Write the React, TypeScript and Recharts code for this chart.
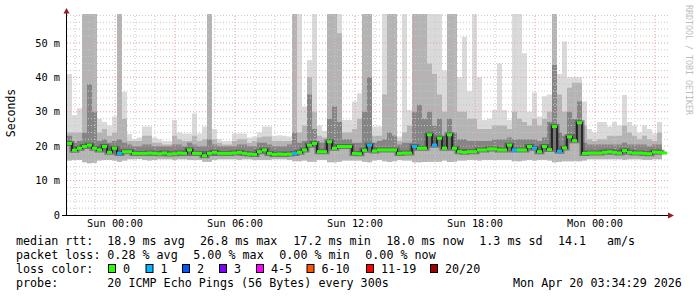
import React from 'react';
import { ComposedChart, Area, Line, Scatter, XAxis, YAxis, ReferenceLine } from 'recharts';

// hours relative to Sun 00:00, one sample every 15 min
const START_HOUR = -2.4;
const END_HOUR = 27.65;
const STEP_HOURS = 0.25;

// median rtt, ms
const median = [
  20.8, 18.8, 19.4, 19.9, 20.3, 19.4, 18.9, 19.9, 18.2, 19.4,
  17.9, 18.4, 18.4, 17.9, 17.9, 17.9, 18.0, 17.9, 17.8, 18.0,
  17.7, 17.8, 18.0, 17.9, 18.9, 17.9, 17.9, 17.2, 17.9, 18.2,
  17.9, 17.9, 17.9, 18.0, 18.2, 17.9, 17.7, 17.6, 18.4, 18.9,
  17.9, 17.6, 17.7, 17.6, 17.7, 17.9, 18.2, 18.9, 20.3, 20.8,
  18.4, 18.4, 21.3, 19.4, 19.9, 19.9, 19.9, 17.9, 17.8, 18.8,
  20.3, 18.6, 18.9, 18.9, 18.9, 18.9, 17.9, 18.0, 18.0, 19.9,
  19.4, 19.4, 23.3, 20.3, 22.3, 19.4, 23.3, 19.4, 18.4, 18.2,
  18.4, 18.4, 18.9, 18.9, 19.2, 19.2, 18.9, 18.9, 20.3, 18.9,
  18.9, 18.9, 19.9, 19.4, 18.4, 19.9, 19.0, 25.7, 18.5, 19.5,
  22.7, 21.6, 26.8, 17.9, 18.0, 18.0, 18.0, 18.2, 18.4, 18.2,
  18.0, 18.7, 18.2, 18.0, 18.0, 17.9, 17.8, 18.3, 18.2, 18.0,
];

// lost pings out of 20
const loss = [
  0, 0, 0, 0, 0, 0, 0, 0, 0, 0,
  1, 0, 0, 0, 0, 0, 0, 0, 0, 0,
  0, 0, 0, 0, 0, 0, 0, 0, 0, 0,
  0, 0, 0, 0, 0, 0, 0, 0, 0, 0,
  0, 0, 0, 0, 0, 1, 0, 0, 0, 0,
  0, 0, 0, 0, 0, 0, 0, 0, 0, 0,
  1, 0, 0, 0, 0, 0, 0, 0, 0, 1,
  0, 0, 0, 1, 0, 0, 0, 0, 0, 0,
  0, 0, 0, 0, 0, 0, 0, 0, 0, 1,
  0, 0, 0, 1, 0, 0, 0, 0, 1, 0,
  0, 0, 0, 0, 0, 0, 0, 0, 0, 0,
  0, 0, 0, 0, 0, 0, 0, 0, 0, 0,
];

// smoke: fastest ping
const smokeLow = [
  15.8, 16.0, 16.0, 15.3, 15.0, 15.2, 15.8, 16.0, 16.0, 15.8,
  15.5, 15.8, 16.2, 16.2, 16.3, 16.0, 15.8, 16.0, 16.2, 16.2,
  16.2, 16.0, 16.2, 16.2, 16.0, 16.0, 16.0, 15.5, 15.5, 16.0,
  16.2, 16.2, 16.2, 16.2, 16.0, 16.2, 16.2, 16.0, 16.0, 16.0,
  16.0, 16.2, 16.2, 16.2, 16.0, 15.6, 15.6, 15.8, 15.5, 15.5,
  16.0, 16.0, 15.3, 15.3, 15.5, 15.8, 15.8, 15.8, 15.8, 15.5,
  15.3, 15.8, 16.0, 15.6, 15.4, 15.6, 16.0, 15.8, 15.8, 15.3,
  15.3, 15.4, 15.5, 15.5, 15.5, 15.8, 15.4, 15.5, 15.8, 15.8,
  16.0, 16.0, 15.8, 16.0, 16.0, 16.0, 16.0, 16.0, 16.0, 15.6,
  15.6, 15.8, 16.0, 15.8, 16.0, 16.0, 15.8, 15.3, 15.5, 15.6,
  15.6, 15.6, 15.6, 15.8, 16.2, 16.2, 16.2, 16.2, 16.2, 16.2,
  16.2, 16.0, 16.2, 16.2, 16.2, 16.0, 16.0, 16.2, 16.2, 16.2,
];

// smoke: middle pings (medium grey)
const smokeMid = [
  24, 24, 24, 58.4, 58.4, 58.4, 24, 25, 23, 24,
  58.4, 28, 21.5, 21.5, 21.5, 23, 23, 21, 21, 20.5,
  20.5, 23, 22, 21.5, 21.5, 23, 21.5, 22, 58.4, 22,
  21, 20.5, 20.5, 21.5, 22, 22, 21, 21.5, 22.5, 22.8,
  22.8, 21.5, 21.5, 21.5, 21.5, 58.4, 24, 26, 40, 30,
  23, 22.5, 58.4, 58.4, 52.8, 24, 24, 25, 28, 58.4,
  58.4, 23, 23, 35, 58.4, 58.4, 21.5, 24, 26, 58.4,
  58.4, 58.4, 44, 41, 35, 30, 58.4, 58.4, 30, 30,
  28, 28, 25, 25, 25, 26, 26, 26, 25, 30,
  28, 27, 26, 28, 26, 28, 30, 58.4, 35, 30,
  37, 38.4, 38.4, 26, 22, 21.5, 22, 22, 23, 23,
  23, 26, 24, 23, 22, 23, 22, 21.5, 24, 22,
];

// smoke: slowest ping (light grey)
const smokeHigh = [
  41, 29, 31, 58.4, 58.4, 58.4, 28, 27, 26, 28.6,
  58.4, 35.8, 23.5, 22, 22.5, 25.7, 25.7, 22.5, 22, 21.5,
  21.5, 27.6, 24, 23.7, 23.7, 29.5, 23.7, 25.7, 58.4, 25,
  22, 21.5, 21.5, 23.7, 23.7, 23.7, 22.5, 22.8, 24, 25.7,
  25.7, 23, 23.2, 23, 22.8, 58.4, 58.4, 31.5, 45, 58.4,
  26, 24.5, 58.4, 58.4, 58.4, 27.6, 27.6, 33, 35.4, 58.4,
  58.4, 25.7, 25.7, 58.4, 58.4, 58.4, 22.8, 58.4, 30.5, 58.4,
  58.4, 58.4, 58.4, 58.4, 58.4, 42, 58.4, 58.4, 40, 51.8,
  36, 58.4, 40, 27.6, 28, 30.5, 44, 30.5, 27.6, 58.4,
  58.4, 47, 30, 35.6, 28.6, 34.5, 35, 58.4, 41, 50.4,
  40, 40, 40, 33, 25, 24, 27, 27, 25.7, 27,
  26, 34.9, 27, 26, 24, 26, 25, 23.7, 27, 27,
];

// smoke: pings just above the median (dark grey)
const smokeCore = [
  23, 21, 21.5, 24, 38, 30, 21.5, 22, 21, 21.5,
  22, 21, 20.5, 20, 20, 20.5, 20.5, 20, 20, 20,
  20, 20.5, 20.5, 20, 21, 20.5, 20, 20, 22, 20.5,
  20, 20, 20, 20, 20.5, 20.5, 20, 20, 21, 21,
  20.5, 20, 20, 20, 20.5, 24, 21, 21.5, 35, 25,
  21, 21, 28, 31.5, 27, 22, 22, 21, 21, 30,
  40, 21, 21.5, 22, 24, 23, 20.5, 21, 21, 30,
  32, 28, 30, 26, 28, 23, 28, 24, 22, 22,
  21.5, 21.5, 21.5, 21.5, 21.5, 22, 22, 22, 22.5, 22,
  22, 22, 22, 22, 21.5, 22.5, 27, 43.6, 24, 23,
  30, 28, 33, 21, 20.5, 20.5, 20.5, 20.5, 20.5, 20.5,
  20.5, 21, 20.5, 20.5, 20.5, 20.5, 20, 20.5, 20.5, 20.5,
];

const timeTicks = [0, 6, 12, 18, 24];
const timeLabels = ['Sun 00:00', 'Sun 06:00', 'Sun 12:00', 'Sun 18:00', 'Mon 00:00'];
const rttTicks = [0, 10, 20, 30, 40, 50];

const lossLabels = ['0', '1', '2', '3', '4-5', '6-10', '11-19', '20/20'];
const lossColors = ['#26ff00', '#00b8ff', '#0059ff', '#7e00ff', '#ff00ff', '#ff5500', '#ff0000', '#a10000'];

const MONO = '"DejaVu Sans Mono", monospace';
const SEG_PX = 5;

const lossColor = (n: number) => {
  if (n <= 3) return lossColors[n];
  if (n <= 5) return lossColors[4];
  if (n <= 10) return lossColors[5];
  if (n <= 19) return lossColors[6];
  return lossColors[7];
};

const rows = median.map((m, i) => ({
  t: START_HOUR + i * STEP_HOURS,
  median: m,
  loss: loss[i],
  light: [smokeLow[i], smokeHigh[i]],
  mid: [smokeLow[i], smokeMid[i]],
  core: [m, smokeCore[i]],
}));

// grid
const hourLines: number[] = [];
for (let h = -2; h <= 27; h++) hourLines.push(h);
const msLines: number[] = [];
for (let v = 2; v <= 58; v += 2) msLines.push(v);

const MedianTick = (props: any) => {
  const { cx, cy, payload } = props;
  if (cx == null || cy == null) return <g />;
  return <rect x={cx} y={cy - 1.5} width={SEG_PX} height={3} fill={lossColor(payload.loss)} />;
};

const legendRows: [number, number, string][] = [
  [245, 16, 'median rtt:'],
  [245, 107.3, '18.9 ms avg'],
  [245, 200, '26.8 ms max'],
  [245, 293.3, '17.2 ms min'],
  [245, 386.3, '18.0 ms now'],
  [245, 479.3, '1.3 ms sd'],
  [245, 558, '14.1'],
  [245, 607, 'am/s'],
  [259, 16, 'packet loss:'],
  [259, 107.3, '0.28 % avg'],
  [259, 193.3, '5.00 % max'],
  [259, 279.3, '0.00 % min'],
  [259, 365.3, '0.00 % now'],
  [273, 16, 'loss color:'],
  [287, 16, 'probe:'],
  [287, 107.3, '20 ICMP Echo Pings (56 Bytes) every 300s'],
  [287, 513, 'Mon Apr 20 03:34:29 2026'],
];
const swatchX = [108, 145.5, 182, 219, 256, 306.5, 366, 430];

export default function App() {
  const tickStyle = { fontFamily: MONO, fontSize: 10.3, fill: '#000' };
  return (
    <div style={{ position: 'absolute', left: 0, top: 0, width: 697, height: 297, background: '#fff' }}>
      <ComposedChart
        width={697}
        height={297}
        data={rows}
        margin={{ top: 14, right: 29, bottom: 62, left: 17 }}
      >
        <XAxis
          dataKey="t"
          type="number"
          domain={[START_HOUR, END_HOUR]}
          allowDataOverflow
          ticks={timeTicks}
          tickFormatter={(v: number) => timeLabels[timeTicks.indexOf(v)]}
          tick={tickStyle}
          tickLine={false}
          tickSize={0}
          tickMargin={5}
          axisLine={false}
          height={20}
        />
        <YAxis
          type="number"
          domain={[0, 58.4]}
          allowDataOverflow
          ticks={rttTicks}
          tickFormatter={(v: number) => (v === 0 ? '0' : `${v} m`)}
          tick={tickStyle}
          tickLine={false}
          tickSize={0}
          tickMargin={7}
          axisLine={false}
          width={50}
        />
        <Area dataKey="light" type="stepAfter" stroke="none" fill="#dadada" fillOpacity={1} isAnimationActive={false} />
        <Area dataKey="mid" type="stepAfter" stroke="none" fill="#b4b4b4" fillOpacity={1} isAnimationActive={false} />
        <Area dataKey="core" type="stepAfter" stroke="none" fill="#858585" fillOpacity={1} isAnimationActive={false} />
        {hourLines.map((h) => (
          <ReferenceLine
            key={'h' + h}
            x={h}
            stroke={h % 3 === 0 ? '#ee9a9a' : '#c8c8c8'}
            strokeDasharray="1 2"
          />
        ))}
        {msLines.map((v) => (
          <ReferenceLine
            key={'v' + v}
            y={v}
            stroke={v % 10 === 0 ? '#ee9a9a' : '#c8c8c8'}
            strokeDasharray="1 2"
          />
        ))}
        <Line dataKey="median" type="stepAfter" stroke="#4a4a4a" strokeWidth={5} strokeOpacity={0.6} dot={false} isAnimationActive={false} />
        <Line dataKey="median" type="stepAfter" stroke="#111" strokeWidth={1.5} dot={false} isAnimationActive={false} />
        <Scatter dataKey="median" shape={MedianTick} isAnimationActive={false} />
      </ComposedChart>
      <svg
        width={697}
        height={297}
        style={{ position: 'absolute', left: 0, top: 0, pointerEvents: 'none' }}
        fontFamily={MONO}
      >
        <line x1={66.5} y1={216} x2={66.5} y2={12} stroke="#000" />
        <line x1={62} y1={215.5} x2={669} y2={215.5} stroke="#000" />
        <polygon points="63.5,13.5 69.5,13.5 66.5,8" fill="#9a1c1c" />
        <polygon points="668,212.5 668,218.5 674,215.5" fill="#9a1c1c" />
        <text x={15} y={113} fontSize={11.5} textAnchor="middle" transform="rotate(-90 15 113)" fill="#000">
          Seconds
        </text>
        <text x={688} y={60} fontSize={8.3} textAnchor="middle" transform="rotate(90 688 60)" fill="#bdbdbd" dominantBaseline="middle">
          RRDTOOL / TOBI OETIKER
        </text>
        {legendRows.map(([y, x, s], i) => (
          <text key={i} x={x} y={y} fontSize={11.7} fill="#000" xmlSpace="preserve">
            {s}
          </text>
        ))}
        {lossLabels.map((lab, i) => (
          <g key={lab}>
            <rect x={swatchX[i] + 0.5} y={264.5} width={7} height={8} fill={lossColors[i]} stroke="#000" />
            <text x={swatchX[i] + 15} y={273} fontSize={11.7} fill="#000">
              {lab}
            </text>
          </g>
        ))}
      </svg>
    </div>
  );
}
